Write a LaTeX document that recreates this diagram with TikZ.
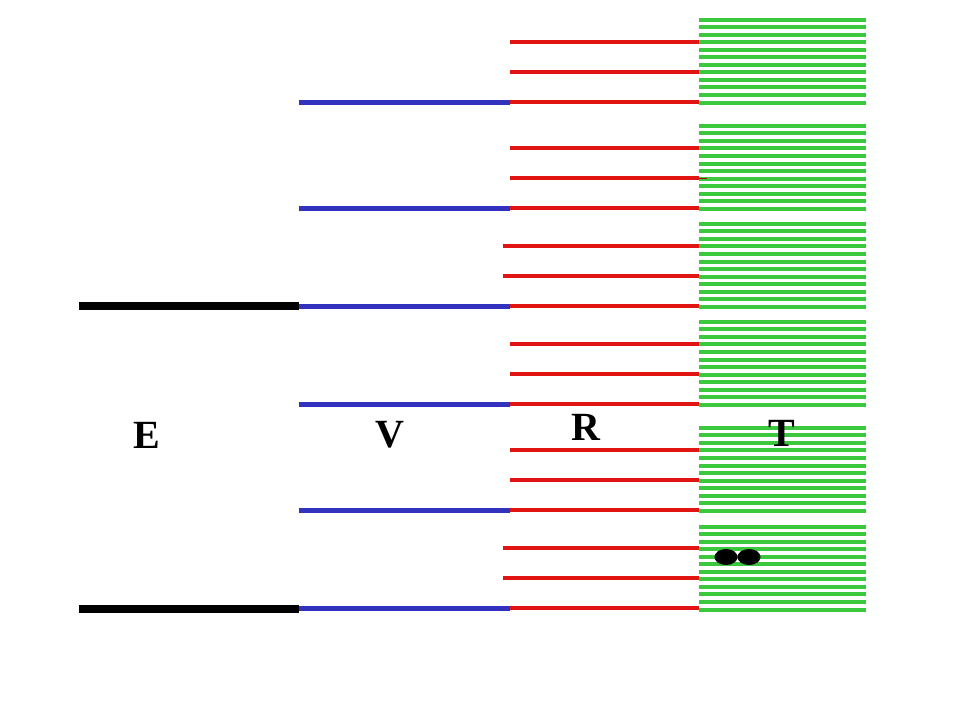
\documentclass[tikz,border=0pt]{standalone}
\usepackage{fontspec}
\setmainfont{Liberation Serif}
\definecolor{gr}{RGB}{60,200,60}
\definecolor{rd}{RGB}{225,20,20}
\definecolor{bl}{RGB}{50,50,190}
\begin{document}
\begin{tikzpicture}[x=1pt,y=-1pt,
  greenline/.style={draw=gr,line width=4pt},
  redline/.style={draw=rd,line width=4pt},
  blueline/.style={draw=bl,line width=5pt},
  blackline/.style={draw=black,line width=8pt},
  lbl/.style={font=\fontsize{40}{40}\selectfont\bfseries,inner sep=0pt}]
\useasboundingbox (0,0) rectangle (960,720);
% green stacks
\foreach \b in {102.5,208.8,306.8,404.8,510.8,609.5}{
  \foreach \i in {0,...,11}{
    \draw[greenline] (699,{\b-83+\i*83/11}) -- (866,{\b-83+\i*83/11});
  }
}
% red lines
\foreach \b/\s in {102/510,208/510,306/503,404/510,510/510,608/503}{
  \draw[redline] (\s,\b-60.5) -- (699,\b-60.5);
  \draw[redline] (\s,\b-30.2) -- (699,\b-30.2);
  \draw[redline] (510,\b) -- (699,\b);
}
\draw[draw=rd!70!black,line width=1.5pt] (699,178.5) -- (707,178.5);
% blue lines
\foreach \b in {102,208,306,404,510,608}{
  \draw[blueline] (299,\b) -- (510,\b);
}
% black lines
\draw[blackline] (79,306) -- (299,306);
\draw[blackline] (79,609) -- (299,609);
% dots
\fill (726,557) ellipse (11.5 and 8);
\fill (749,557) ellipse (11.5 and 8);
% labels
\node[lbl] (E) at (147,435) {E};
\node[lbl] (V) at (390,435) {V};
\node[lbl] (R) at (586,427) {R};
\node[lbl] (T) at (782,433) {T};
\end{tikzpicture}
\end{document}
